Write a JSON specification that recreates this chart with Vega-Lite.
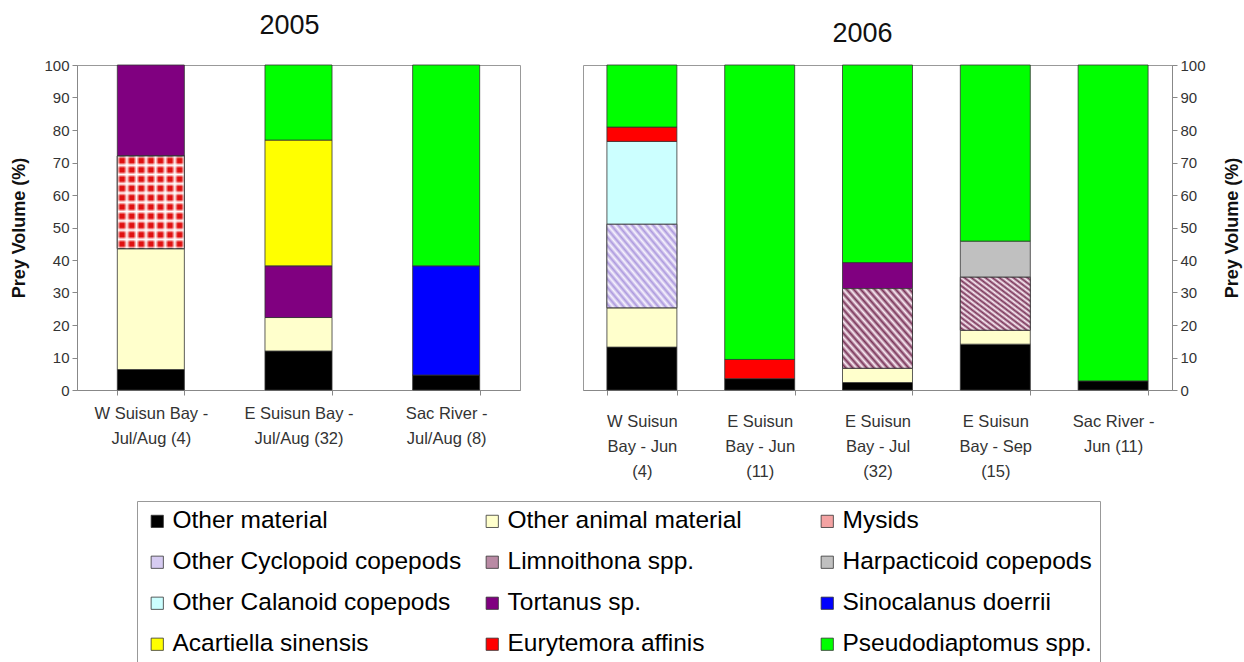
{
  "$schema": "https://vega.github.io/schema/vega-lite/v6.json",
  "background": "white",
  "padding": {"left": 10, "top": 11, "right": 2, "bottom": 0},
  "datasets": {
    "species": [
      {"prey": "Other material", "k": 1},
      {"prey": "Other animal material", "k": 2},
      {"prey": "Mysids", "k": 3},
      {"prey": "Other Cyclopoid copepods", "k": 4},
      {"prey": "Limnoithona spp.", "k": 5},
      {"prey": "Harpacticoid copepods", "k": 6},
      {"prey": "Other Calanoid copepods", "k": 7},
      {"prey": "Tortanus sp.", "k": 8},
      {"prey": "Sinocalanus doerrii", "k": 9},
      {"prey": "Acartiella sinensis", "k": 10},
      {"prey": "Eurytemora affinis", "k": 11},
      {"prey": "Pseudodiaptomus spp.", "k": 12}
    ],
    "prey": [
      {"year": "2005", "site": "W Suisun Bay -|Jul/Aug (4)", "prey": "Other material", "pct": 6.3},
      {"year": "2005", "site": "W Suisun Bay -|Jul/Aug (4)", "prey": "Other animal material", "pct": 37.2},
      {"year": "2005", "site": "W Suisun Bay -|Jul/Aug (4)", "prey": "Mysids", "pct": 28.5},
      {"year": "2005", "site": "W Suisun Bay -|Jul/Aug (4)", "prey": "Tortanus sp.", "pct": 28.0},
      {"year": "2005", "site": "E Suisun Bay -|Jul/Aug (32)", "prey": "Other material", "pct": 12.0},
      {"year": "2005", "site": "E Suisun Bay -|Jul/Aug (32)", "prey": "Other animal material", "pct": 10.3},
      {"year": "2005", "site": "E Suisun Bay -|Jul/Aug (32)", "prey": "Tortanus sp.", "pct": 15.9},
      {"year": "2005", "site": "E Suisun Bay -|Jul/Aug (32)", "prey": "Acartiella sinensis", "pct": 38.7},
      {"year": "2005", "site": "E Suisun Bay -|Jul/Aug (32)", "prey": "Pseudodiaptomus spp.", "pct": 23.1},
      {"year": "2005", "site": "Sac River -|Jul/Aug (8)", "prey": "Other material", "pct": 4.6},
      {"year": "2005", "site": "Sac River -|Jul/Aug (8)", "prey": "Sinocalanus doerrii", "pct": 33.6},
      {"year": "2005", "site": "Sac River -|Jul/Aug (8)", "prey": "Pseudodiaptomus spp.", "pct": 61.8},
      {"year": "2006", "site": "W Suisun|Bay - Jun|(4)", "prey": "Other material", "pct": 13.2},
      {"year": "2006", "site": "W Suisun|Bay - Jun|(4)", "prey": "Other animal material", "pct": 12.1},
      {"year": "2006", "site": "W Suisun|Bay - Jun|(4)", "prey": "Other Cyclopoid copepods", "pct": 25.7},
      {"year": "2006", "site": "W Suisun|Bay - Jun|(4)", "prey": "Other Calanoid copepods", "pct": 25.5},
      {"year": "2006", "site": "W Suisun|Bay - Jun|(4)", "prey": "Eurytemora affinis", "pct": 4.4},
      {"year": "2006", "site": "W Suisun|Bay - Jun|(4)", "prey": "Pseudodiaptomus spp.", "pct": 19.1},
      {"year": "2006", "site": "E Suisun|Bay - Jun|(11)", "prey": "Other material", "pct": 3.5},
      {"year": "2006", "site": "E Suisun|Bay - Jun|(11)", "prey": "Eurytemora affinis", "pct": 5.9},
      {"year": "2006", "site": "E Suisun|Bay - Jun|(11)", "prey": "Pseudodiaptomus spp.", "pct": 90.6},
      {"year": "2006", "site": "E Suisun|Bay - Jul|(32)", "prey": "Other material", "pct": 2.3},
      {"year": "2006", "site": "E Suisun|Bay - Jul|(32)", "prey": "Other animal material", "pct": 4.4},
      {"year": "2006", "site": "E Suisun|Bay - Jul|(32)", "prey": "Limnoithona spp.", "pct": 24.5},
      {"year": "2006", "site": "E Suisun|Bay - Jul|(32)", "prey": "Tortanus sp.", "pct": 8.0},
      {"year": "2006", "site": "E Suisun|Bay - Jul|(32)", "prey": "Pseudodiaptomus spp.", "pct": 60.8},
      {"year": "2006", "site": "E Suisun|Bay - Sep|(15)", "prey": "Other material", "pct": 14.1},
      {"year": "2006", "site": "E Suisun|Bay - Sep|(15)", "prey": "Other animal material", "pct": 4.3},
      {"year": "2006", "site": "E Suisun|Bay - Sep|(15)", "prey": "Limnoithona spp.", "pct": 16.3},
      {"year": "2006", "site": "E Suisun|Bay - Sep|(15)", "prey": "Harpacticoid copepods", "pct": 11.1},
      {"year": "2006", "site": "E Suisun|Bay - Sep|(15)", "prey": "Pseudodiaptomus spp.", "pct": 54.2},
      {"year": "2006", "site": "Sac River -|Jun (11)", "prey": "Other material", "pct": 2.8},
      {"year": "2006", "site": "Sac River -|Jun (11)", "prey": "Pseudodiaptomus spp.", "pct": 97.2}
    ]
  },
  "spacing": 61,
  "resolve": {"scale": {"color": "shared"}},
  "hconcat": [
    {
      "title": {"text": "2005", "fontSize": 27, "fontWeight": "normal", "color": "#111", "offset": 18, "dx": -9},
      "width": 443,
      "height": 325,
      "data": {"name": "prey"},
      "transform": [
        {"filter": "datum.year == '2005'"},
        {"lookup": "prey", "from": {"data": {"name": "species"}, "key": "prey", "fields": ["k"]}},
        {"stack": "pct", "groupby": ["site"], "sort": [{"field": "k", "order": "ascending"}], "as": ["y0", "y1"]}
      ],
      "encoding": {
        "x": {
          "field": "site", "type": "nominal", "sort": null, "title": null,
          "scale": {"paddingInner": 0.546, "paddingOuter": 0.273},
          "axis": {"labelAngle": 0, "labelExpr": "split(datum.label, '|')", "labelFontSize": 16.5, "labelColor": "#333", "labelLineHeight": 25, "labelPadding": 10, "tickBand": "extent", "tickSize": 5, "tickColor": "#888", "domainColor": "#888", "labelLimit": 200}
        },
        "y": {
          "field": "y0", "type": "quantitative", "scale": {"domain": [0, 100]},
          "axis": {"title": "Prey Volume (%)", "values": [0, 10, 20, 30, 40, 50, 60, 70, 80, 90, 100], "grid": false, "labelFontSize": 15, "labelColor": "#333", "titleFontSize": 18, "titleFontWeight": "bold", "titleColor": "#111", "titlePadding": 15, "tickSize": 5, "tickColor": "#888", "domainColor": "#888", "labelPadding": 3}
        },
        "y2": {"field": "y1"}
      },
      "layer": [
        {
          "mark": {"type": "bar", "stroke": "#333", "strokeWidth": 0.8},
          "encoding": {
            "color": {
              "field": "prey", "type": "nominal",
              "scale": {
                "domain": ["Other material", "Other Cyclopoid copepods", "Other Calanoid copepods", "Acartiella sinensis", "Other animal material", "Limnoithona spp.", "Tortanus sp.", "Eurytemora affinis", "Mysids", "Harpacticoid copepods", "Sinocalanus doerrii", "Pseudodiaptomus spp."],
                "range": ["#000000", "#d6cbf1", "#ccffff", "#ffff00", "#ffffcc", "#b98aa4", "#800080", "#ff0000", "#f4a3a3", "#c0c0c0", "#0000ff", "#00ff00"]
              },
              "legend": {"title": null, "orient": "none", "legendX": 60, "legendY": 436, "columns": 3, "gridAlign": "all", "symbolType": "square", "symbolSize": 150, "symbolStrokeColor": "#333", "symbolStrokeWidth": 0.8, "labelFontSize": 24.5, "labelColor": "#000", "labelLimit": 400, "labelOffset": 3, "rowPadding": 16, "columnPadding": 18, "padding": 8, "strokeColor": "#999"}
            }
          }
        },
        {
          "transform": [{"filter": "datum.prey == 'Mysids'"}],
          "mark": {"type": "bar", "stroke": "#333", "strokeWidth": 0.8, "fill": {"gradient": "linear", "x1": 0, "y1": 0, "x2": 0, "y2": 1, "stops": [
            {"offset": 0, "color": "#ffffff"}, {"offset": 0.03, "color": "#e01010"}, {"offset": 0.07, "color": "#e01010"},
            {"offset": 0.1, "color": "#ffffff"}, {"offset": 0.13, "color": "#e01010"}, {"offset": 0.17, "color": "#e01010"},
            {"offset": 0.2, "color": "#ffffff"}, {"offset": 0.23, "color": "#e01010"}, {"offset": 0.27, "color": "#e01010"},
            {"offset": 0.3, "color": "#ffffff"}, {"offset": 0.33, "color": "#e01010"}, {"offset": 0.37, "color": "#e01010"},
            {"offset": 0.4, "color": "#ffffff"}, {"offset": 0.43, "color": "#e01010"}, {"offset": 0.47, "color": "#e01010"},
            {"offset": 0.5, "color": "#ffffff"}, {"offset": 0.53, "color": "#e01010"}, {"offset": 0.57, "color": "#e01010"},
            {"offset": 0.6, "color": "#ffffff"}, {"offset": 0.63, "color": "#e01010"}, {"offset": 0.67, "color": "#e01010"},
            {"offset": 0.7, "color": "#ffffff"}, {"offset": 0.73, "color": "#e01010"}, {"offset": 0.77, "color": "#e01010"},
            {"offset": 0.8, "color": "#ffffff"}, {"offset": 0.83, "color": "#e01010"}, {"offset": 0.87, "color": "#e01010"},
            {"offset": 0.9, "color": "#ffffff"}, {"offset": 0.93, "color": "#e01010"}, {"offset": 0.97, "color": "#e01010"},
            {"offset": 1, "color": "#ffffff"}
          ]}}
        },
        {
          "transform": [{"filter": "datum.prey == 'Mysids'"}],
          "mark": {"type": "bar", "stroke": "#333", "strokeWidth": 0.8, "fill": {"gradient": "linear", "x1": 0, "y1": 0, "x2": 1, "y2": 0, "stops": [
            {"offset": 0, "color": "rgba(255,255,255,0.95)"}, {"offset": 0.045, "color": "rgba(255,255,255,0)"}, {"offset": 0.098, "color": "rgba(255,255,255,0)"},
            {"offset": 0.1429, "color": "rgba(255,255,255,0.95)"}, {"offset": 0.188, "color": "rgba(255,255,255,0)"}, {"offset": 0.241, "color": "rgba(255,255,255,0)"},
            {"offset": 0.2857, "color": "rgba(255,255,255,0.95)"}, {"offset": 0.331, "color": "rgba(255,255,255,0)"}, {"offset": 0.384, "color": "rgba(255,255,255,0)"},
            {"offset": 0.4286, "color": "rgba(255,255,255,0.95)"}, {"offset": 0.474, "color": "rgba(255,255,255,0)"}, {"offset": 0.527, "color": "rgba(255,255,255,0)"},
            {"offset": 0.5714, "color": "rgba(255,255,255,0.95)"}, {"offset": 0.617, "color": "rgba(255,255,255,0)"}, {"offset": 0.670, "color": "rgba(255,255,255,0)"},
            {"offset": 0.7143, "color": "rgba(255,255,255,0.95)"}, {"offset": 0.760, "color": "rgba(255,255,255,0)"}, {"offset": 0.813, "color": "rgba(255,255,255,0)"},
            {"offset": 0.8571, "color": "rgba(255,255,255,0.95)"}, {"offset": 0.902, "color": "rgba(255,255,255,0)"}, {"offset": 0.955, "color": "rgba(255,255,255,0)"},
            {"offset": 1, "color": "rgba(255,255,255,0.95)"}
          ]}}
        }
      ]
    },
    {
      "title": {"text": "2006", "fontSize": 27, "fontWeight": "normal", "color": "#111", "offset": 10, "dx": -15},
      "width": 589,
      "height": 325,
      "data": {"name": "prey"},
      "transform": [
        {"filter": "datum.year == '2006'"},
        {"lookup": "prey", "from": {"data": {"name": "species"}, "key": "prey", "fields": ["k"]}},
        {"stack": "pct", "groupby": ["site"], "sort": [{"field": "k", "order": "ascending"}], "as": ["y0", "y1"]}
      ],
      "encoding": {
        "x": {
          "field": "site", "type": "nominal", "sort": null, "title": null,
          "scale": {"paddingInner": 0.406, "paddingOuter": 0.203},
          "axis": {"labelAngle": 0, "labelExpr": "split(datum.label, '|')", "labelFontSize": 16.5, "labelColor": "#333", "labelLineHeight": 25, "labelPadding": 18, "tickBand": "extent", "tickSize": 5, "tickColor": "#888", "domainColor": "#888", "labelLimit": 200}
        },
        "y": {
          "field": "y0", "type": "quantitative", "scale": {"domain": [0, 100]},
          "axis": {"orient": "right", "title": "Prey Volume (%)", "titleAngle": 270, "values": [0, 10, 20, 30, 40, 50, 60, 70, 80, 90, 100], "grid": false, "labelFontSize": 15, "labelColor": "#333", "titleFontSize": 18, "titleFontWeight": "bold", "titleColor": "#111", "titlePadding": 36, "tickSize": 5, "tickColor": "#888", "domainColor": "#888", "labelPadding": 3}
        },
        "y2": {"field": "y1"}
      },
      "layer": [
        {
          "mark": {"type": "bar", "stroke": "#333", "strokeWidth": 0.8},
          "encoding": {"color": {"field": "prey", "type": "nominal"}}
        },
        {
          "transform": [{"filter": "datum.prey == 'Other Cyclopoid copepods'"}],
          "mark": {"type": "bar", "stroke": "#333", "strokeWidth": 0.8, "fill": {"gradient": "linear", "x1": 0, "y1": 1, "x2": 1, "y2": 0, "stops": [
            {"offset": 0, "color": "#f7f3fd"}, {"offset": 0.025, "color": "#ad9ade"}, {"offset": 0.05, "color": "#f7f3fd"}, {"offset": 0.075, "color": "#ad9ade"}, {"offset": 0.1, "color": "#f7f3fd"}, {"offset": 0.125, "color": "#ad9ade"}, {"offset": 0.15, "color": "#f7f3fd"}, {"offset": 0.175, "color": "#ad9ade"}, {"offset": 0.2, "color": "#f7f3fd"}, {"offset": 0.225, "color": "#ad9ade"}, {"offset": 0.25, "color": "#f7f3fd"}, {"offset": 0.275, "color": "#ad9ade"}, {"offset": 0.3, "color": "#f7f3fd"}, {"offset": 0.325, "color": "#ad9ade"}, {"offset": 0.35, "color": "#f7f3fd"}, {"offset": 0.375, "color": "#ad9ade"}, {"offset": 0.4, "color": "#f7f3fd"}, {"offset": 0.425, "color": "#ad9ade"}, {"offset": 0.45, "color": "#f7f3fd"}, {"offset": 0.475, "color": "#ad9ade"}, {"offset": 0.5, "color": "#f7f3fd"}, {"offset": 0.525, "color": "#ad9ade"}, {"offset": 0.55, "color": "#f7f3fd"}, {"offset": 0.575, "color": "#ad9ade"}, {"offset": 0.6, "color": "#f7f3fd"}, {"offset": 0.625, "color": "#ad9ade"}, {"offset": 0.65, "color": "#f7f3fd"}, {"offset": 0.675, "color": "#ad9ade"}, {"offset": 0.7, "color": "#f7f3fd"}, {"offset": 0.725, "color": "#ad9ade"}, {"offset": 0.75, "color": "#f7f3fd"}, {"offset": 0.775, "color": "#ad9ade"}, {"offset": 0.8, "color": "#f7f3fd"}, {"offset": 0.825, "color": "#ad9ade"}, {"offset": 0.85, "color": "#f7f3fd"}, {"offset": 0.875, "color": "#ad9ade"}, {"offset": 0.9, "color": "#f7f3fd"}, {"offset": 0.925, "color": "#ad9ade"}, {"offset": 0.95, "color": "#f7f3fd"}, {"offset": 0.975, "color": "#ad9ade"}, {"offset": 1, "color": "#f7f3fd"}
          ]}}
        },
        {
          "transform": [{"filter": "datum.prey == 'Limnoithona spp.'"}],
          "mark": {"type": "bar", "stroke": "#333", "strokeWidth": 0.8, "fill": {"gradient": "linear", "x1": 0, "y1": 1, "x2": 1, "y2": 0, "stops": [
            {"offset": 0, "color": "#fbeef6"}, {"offset": 0.025, "color": "#7a3459"}, {"offset": 0.05, "color": "#fbeef6"}, {"offset": 0.075, "color": "#7a3459"}, {"offset": 0.1, "color": "#fbeef6"}, {"offset": 0.125, "color": "#7a3459"}, {"offset": 0.15, "color": "#fbeef6"}, {"offset": 0.175, "color": "#7a3459"}, {"offset": 0.2, "color": "#fbeef6"}, {"offset": 0.225, "color": "#7a3459"}, {"offset": 0.25, "color": "#fbeef6"}, {"offset": 0.275, "color": "#7a3459"}, {"offset": 0.3, "color": "#fbeef6"}, {"offset": 0.325, "color": "#7a3459"}, {"offset": 0.35, "color": "#fbeef6"}, {"offset": 0.375, "color": "#7a3459"}, {"offset": 0.4, "color": "#fbeef6"}, {"offset": 0.425, "color": "#7a3459"}, {"offset": 0.45, "color": "#fbeef6"}, {"offset": 0.475, "color": "#7a3459"}, {"offset": 0.5, "color": "#fbeef6"}, {"offset": 0.525, "color": "#7a3459"}, {"offset": 0.55, "color": "#fbeef6"}, {"offset": 0.575, "color": "#7a3459"}, {"offset": 0.6, "color": "#fbeef6"}, {"offset": 0.625, "color": "#7a3459"}, {"offset": 0.65, "color": "#fbeef6"}, {"offset": 0.675, "color": "#7a3459"}, {"offset": 0.7, "color": "#fbeef6"}, {"offset": 0.725, "color": "#7a3459"}, {"offset": 0.75, "color": "#fbeef6"}, {"offset": 0.775, "color": "#7a3459"}, {"offset": 0.8, "color": "#fbeef6"}, {"offset": 0.825, "color": "#7a3459"}, {"offset": 0.85, "color": "#fbeef6"}, {"offset": 0.875, "color": "#7a3459"}, {"offset": 0.9, "color": "#fbeef6"}, {"offset": 0.925, "color": "#7a3459"}, {"offset": 0.95, "color": "#fbeef6"}, {"offset": 0.975, "color": "#7a3459"}, {"offset": 1, "color": "#fbeef6"}
          ]}}
        }
      ]
    }
  ],
  "config": {
    "font": "Liberation Sans",
    "view": {"stroke": "#999", "strokeWidth": 1}
  }
}
